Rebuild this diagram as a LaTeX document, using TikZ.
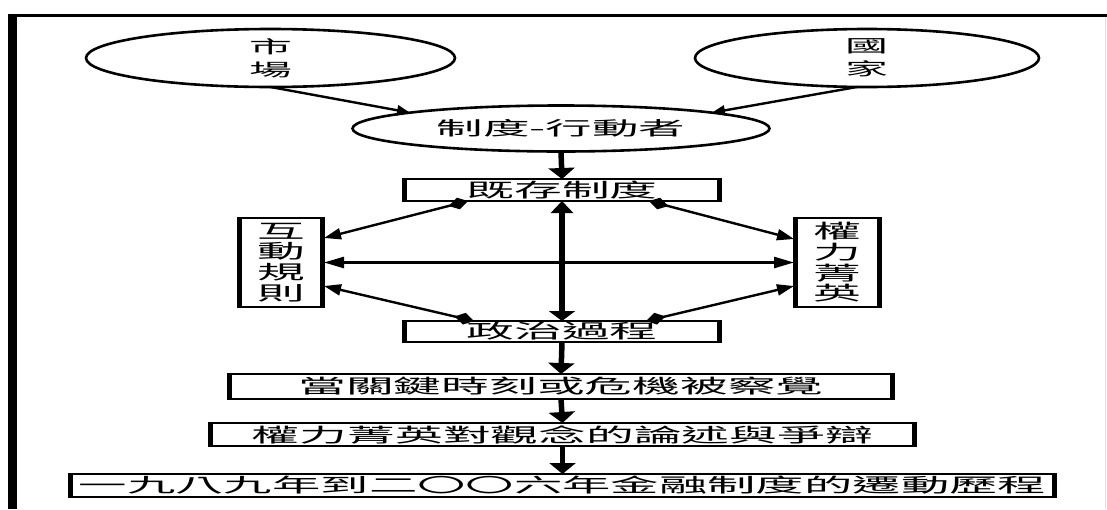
\documentclass[tikz,border=0pt]{standalone}
\usepackage{fontspec}
\usepackage{graphicx}
\usetikzlibrary{shapes.geometric,arrows.meta}
\newfontfamily\cjk{Noto Sans CJK TC}
% horizontally widened glyphs
\newcommand{\wx}[1]{\scalebox{2.45}[1]{#1}}

\begin{document}
\begin{tikzpicture}[x=1pt,y=-1pt,
  oval/.style={ellipse, draw, line width=2.6pt, inner sep=0pt, outer sep=0pt},
  stepbox/.style={rectangle, draw, line width=2.2pt, inner sep=0pt, outer sep=0pt,
    font=\cjk\fontsize{19.5}{20.7}\selectfont, align=center},
  flow/.style={line width=5.5pt, -{Triangle[length=11pt,width=26pt]}},
  twoway/.style={line width=5.5pt, {Triangle[length=12pt,width=22pt]}-{Triangle[length=10pt,width=26pt]}},
  diag/.style={line width=2.4pt, {Kite[length=20pt,width=12pt,inset=10pt]}-{Triangle[length=17pt,width=11pt]}},
  across/.style={line width=2.6pt, {Triangle[length=20pt,width=11pt]}-{Triangle[length=20pt,width=11pt]}},
  feed/.style={line width=2.4pt, -{Triangle[length=13pt,width=10pt]}}
]
\useasboundingbox (0,0) rectangle (1107,509);
\fill[white] (0,0) rectangle (1107,509);

% frame
\draw[line width=3pt] (8,15.5) -- (1107,15.5);
\fill (8,14) rectangle (17,509);
\draw[black!12, line width=1pt] (1105,17) -- (1105,509);

% ellipses
\node[oval, minimum width=369pt, minimum height=58pt,
  font=\cjk\fontsize{17.5}{23}\selectfont, align=center] (mkt) at (270.5,58) {\wx{市}\\\wx{場}};
\node[oval, minimum width=344pt, minimum height=58pt,
  font=\cjk\fontsize{17.5}{23}\selectfont, align=center] (gj) at (867,58) {\wx{國}\\\wx{家}};
\node[oval, minimum width=417pt, minimum height=46pt,
  font=\cjk\fontsize{19}{20}\selectfont] (ce) at (561,128.5) {\wx{制度-行動者}};

% boxes
\node[stepbox, minimum width=318pt, minimum height=22pt] (jc) at (562,190) {\wx{既存制度}};
\node[stepbox, minimum width=86pt, minimum height=89pt] (hd) at (281,262.5)
  {\wx{互}\\\wx{動}\\\wx{規}\\\wx{則}};
\node[stepbox, minimum width=87pt, minimum height=89pt] (ql) at (837.5,262.5)
  {\wx{權}\\\wx{力}\\\wx{菁}\\\wx{英}};
\node[stepbox, minimum width=318pt, minimum height=21pt] (zz) at (562,331.5) {\wx{政治過程}};
\node[stepbox, minimum width=666pt, minimum height=25pt] (b1) at (561,386.5) {\wx{當關鍵時刻或危機被察覺}};
\node[stepbox, minimum width=707pt, minimum height=23pt] (b2) at (562.5,434.5) {\wx{權力菁英對觀念的論述與爭辯}};
\node[stepbox, minimum width=987pt, minimum height=23pt] (b3) at (562.5,485.5) {\scalebox{2.48}[1]{一九八九年到二〇〇六年金融制度的遷動歷程}};

% heavier vertical sides of the boxes
\foreach \n in {jc,hd,ql,zz,b1,b2,b3} {
  \fill ([xshift=-1.1pt,yshift=1.1pt]\n.north west) rectangle ([xshift=3.9pt,yshift=-1.1pt]\n.south west);
  \fill ([xshift=1.1pt,yshift=1.1pt]\n.north east) rectangle ([xshift=-3.9pt,yshift=-1.1pt]\n.south east);
}

% connectors
\draw[feed] (mkt.south) -- (ce.174);
\draw[feed] ([xshift=-10pt]gj.south) -- (ce.6);
\draw[flow] (ce.south) -- (jc.north);
\draw[twoway] (jc.south) -- (zz.north);
\draw[diag] ([xshift=65pt]jc.south west) -- ([yshift=-20pt]hd.north east);
\draw[diag] ([xshift=71pt]zz.north west) -- ([yshift=21pt]hd.south east);
\draw[diag] ([xshift=-72pt]jc.south east) -- ([yshift=-21pt]ql.north west);
\draw[diag] ([xshift=-75pt]zz.north east) -- ([yshift=21pt]ql.south west);
\draw[across] (hd.east) -- (ql.west);
\draw[flow] (zz.south) -- (b1.north);
\draw[flow] (b1.south) -- (b2.north);
\draw[flow] (b2.south) -- (b3.north);
\end{tikzpicture}
\end{document}
